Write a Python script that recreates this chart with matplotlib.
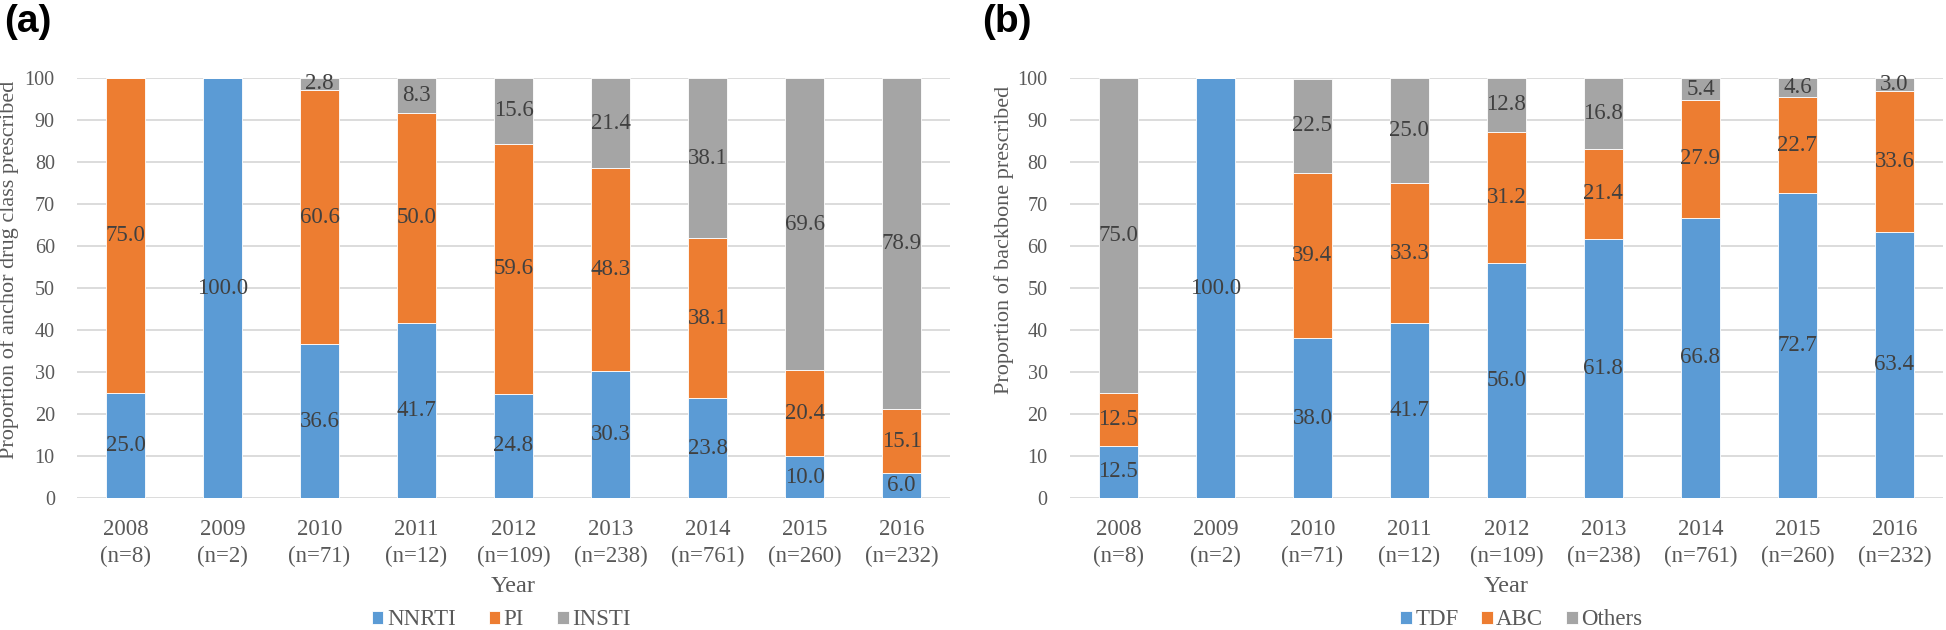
import numpy as np
from matplotlib import pyplot as plt

years = ["2008", "2009", "2010", "2011", "2012", "2013", "2014", "2015", "2016"]
n_counts = [8, 2, 71, 12, 109, 238, 761, 260, 232]

# panel (a) anchor drug class
nnrti = [25.0, 100.0, 36.6, 41.7, 24.8, 30.3, 23.8, 10.0, 6.0]
pi = [75.0, 0.0, 60.6, 50.0, 59.6, 48.3, 38.1, 20.4, 15.1]
insti = [0.0, 0.0, 2.8, 8.3, 15.6, 21.4, 38.1, 69.6, 78.9]

# panel (b) backbone
tdf = [12.5, 100.0, 38.0, 41.7, 56.0, 61.8, 66.8, 72.7, 63.4]
abc = [12.5, 0.0, 39.4, 33.3, 31.2, 21.4, 27.9, 22.7, 33.6]
others = [75.0, 0.0, 22.5, 25.0, 12.8, 16.8, 5.4, 4.6, 3.0]

colors = ["#5B9BD5", "#ED7D31", "#A5A5A5"]
serif = "Liberation Serif"
fs = 16.5


def draw_panel(ax, series, names, ylabel, ylab_pos, leg_x, colspace):
    x = np.arange(len(years))
    bottom = np.zeros(len(years))
    handles = []
    for vals, name, col in zip(series, names, colors):
        vals = np.asarray(vals)
        h = ax.bar(x, vals, 0.4, bottom=bottom, color=col, label=name,
                   edgecolor="white", linewidth=0.6, zorder=3)
        handles.append(h)
        for xi, b, v in zip(x, bottom, vals):
            if v > 0:
                ax.text(xi, b + v / 2, f"{v:.1f}", ha="center", va="center",
                        fontsize=fs, color="#404040", family=serif, zorder=4)
        bottom += vals

    ax.set_xlim(-0.5, len(years) - 0.5)
    ax.set_ylim(0, 100)
    ax.set_yticks(range(0, 101, 10))
    ax.set_xticks(x)
    ax.set_xticklabels([f"{y}\n(n={n})" for y, n in zip(years, n_counts)],
                       family=serif, fontsize=fs, color="#595959",
                       linespacing=1.4)
    for lab in ax.get_yticklabels():
        lab.set_family(serif)
        lab.set_fontsize(14.5)
        lab.set_color("#595959")
    ax.tick_params(length=0)
    ax.tick_params(axis="y", pad=16)
    ax.tick_params(axis="x", pad=15)
    ax.grid(axis="y", color="#D9D9D9", linewidth=1.3, zorder=0)
    for s in ax.spines.values():
        s.set_visible(False)
    ax.set_ylabel(ylabel, family=serif, fontsize=16, color="#595959")
    ax.yaxis.set_label_coords(*ylab_pos)
    ax.set_xlabel("Year", family=serif, fontsize=17.5, color="#595959",
                  labelpad=6)
    ax.legend(handles=handles, loc="center", bbox_to_anchor=(leg_x, -0.29),
              ncol=3, frameon=False, prop={"family": serif, "size": fs},
              handlelength=0.5, handleheight=0.5, handletextpad=0.15,
              columnspacing=colspace, labelcolor="#595959")


fig = plt.figure(figsize=(19.46, 6.3), dpi=100)
ax1 = fig.add_axes([0.0396, 0.2095, 0.4486, 0.6665])
ax2 = fig.add_axes([0.5498, 0.2095, 0.4486, 0.6665])

draw_panel(ax1, [nnrti, pi, insti], ["NNRTI", "PI", "INSTI"],
           "Proportion of anchor drug class prescribed",
           (-0.066, 0.543), 0.486, 1.45)
draw_panel(ax2, [tdf, abc, others], ["TDF", "ABC", "Others"],
           "Proportion of backbone prescribed",
           (-0.064, 0.614), 0.517, 1.0)

fig.text(0.002, 0.965, "(a)", fontsize=28, fontweight="bold",
         family="Liberation Sans", va="center", ha="left")
fig.text(0.5045, 0.965, "(b)", fontsize=28, fontweight="bold",
         family="Liberation Sans", va="center", ha="left")

fig.savefig("out.png", dpi=100)
